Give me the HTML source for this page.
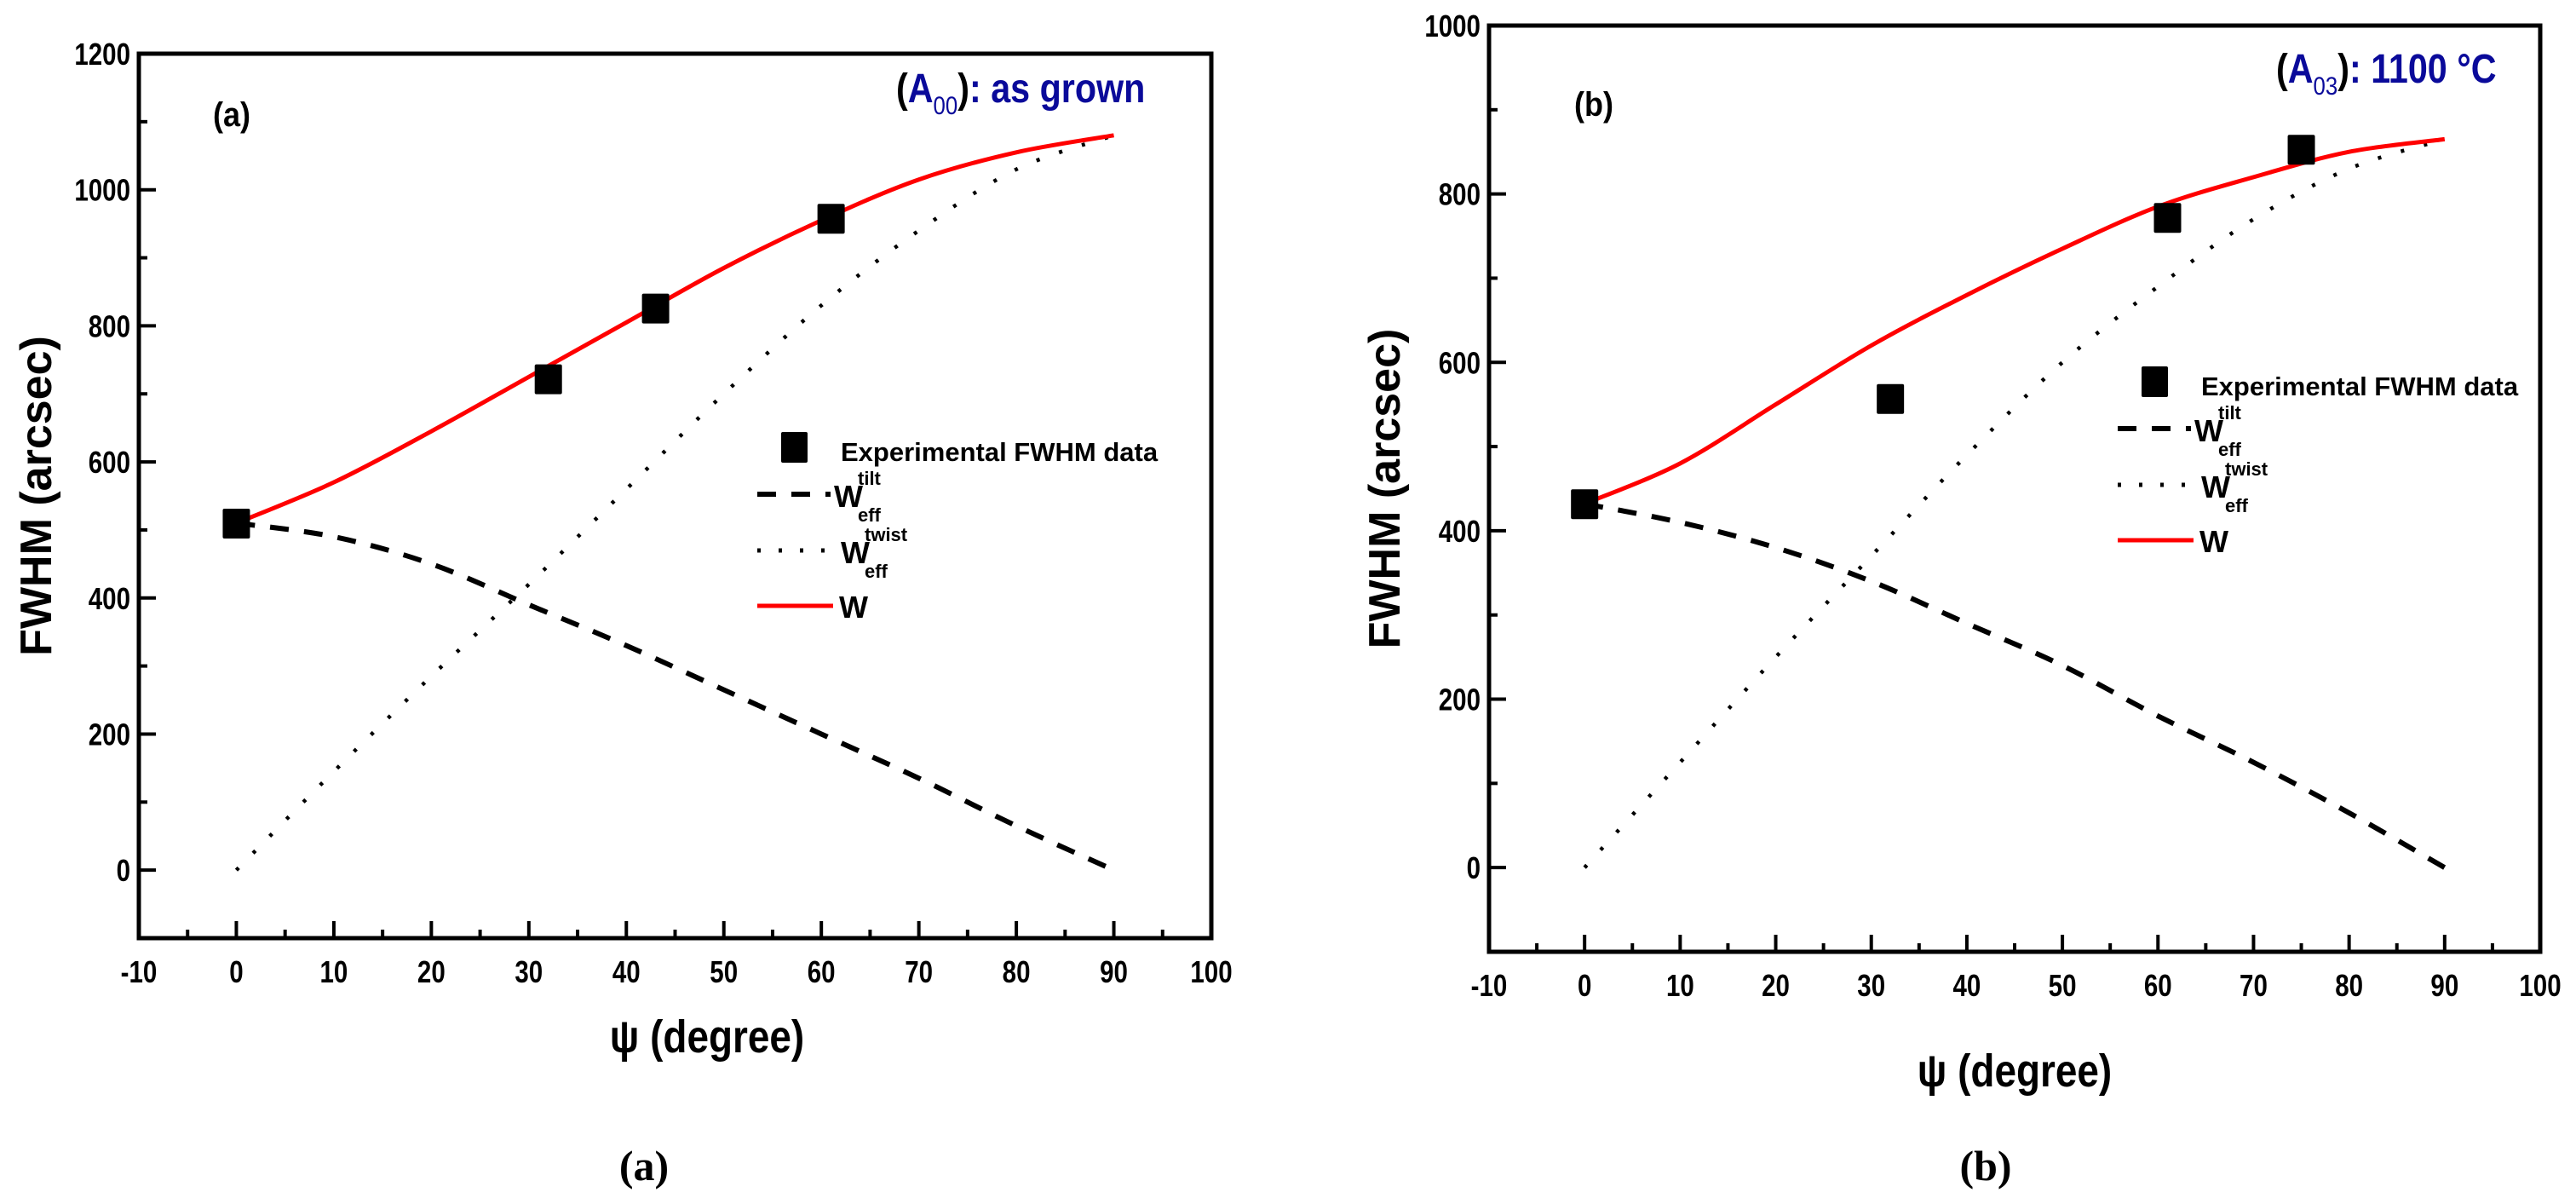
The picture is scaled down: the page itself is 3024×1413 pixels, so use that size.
<!DOCTYPE html>
<html><head><meta charset="utf-8"><style>
html,body{margin:0;padding:0;background:#fff;}
svg{display:block;}
text{font-family:"Liberation Sans",sans-serif;}
</style></head><body>
<svg id="fig" width="3024" height="1413" viewBox="0 0 3024 1413" xmlns="http://www.w3.org/2000/svg"></svg>
<script>
// ---- data ----
const xTicks = [-10,0,10,20,30,40,50,60,70,80,90,100];
const curveX = [0,10,20,30,40,50,60,70,80,90];
// panel a
const aYTicks = [0,200,400,600,800,1000,1200];
const aExpX = [0,32,43,61];
const aExpY = [510,722,826,958];
const aTilt = [510,490,450,390,330,265,200,135,65,0];
const aTwist = [0,145,285,420,560,700,830,940,1030,1080];
const aW = [510,570,645,725,805,885,955,1015,1055,1080];
// panel b
const bYTicks = [0,200,400,600,800,1000];
const bExpX = [0,32,61,75];
const bExpY = [432,557,772,853];
const bTilt = [432,410,380,340,290,240,180,125,65,0];
const bTwist = [0,125,250,370,490,600,690,770,830,865];
const bW = [432,480,550,620,680,735,785,820,850,865];

const NS="http://www.w3.org/2000/svg";
const svg=document.getElementById('fig');
function el(tag,attrs,parent){const e=document.createElementNS(NS,tag);for(const k in attrs)e.setAttribute(k,attrs[k]);(parent||svg).appendChild(e);return e;}
function txt(str,attrs,parent){const t=el('text',attrs,parent);t.textContent=str;return t;}

function smoothPath(pts){
  let d='M'+pts[0][0]+','+pts[0][1];
  for(let i=0;i<pts.length-1;i++){
    const p0=pts[Math.max(0,i-1)],p1=pts[i],p2=pts[i+1],p3=pts[Math.min(pts.length-1,i+2)];
    const c1=[p1[0]+(p2[0]-p0[0])/6,p1[1]+(p2[1]-p0[1])/6];
    const c2=[p2[0]-(p3[0]-p1[0])/6,p2[1]-(p3[1]-p1[1])/6];
    d+=' C'+c1[0]+','+c1[1]+' '+c2[0]+','+c2[1]+' '+p2[0]+','+p2[1];
  }
  return d;
}

function panel(cfg){
  const g=el('g',{});
  
  
  const sx=v=>cfg.L+(v-(-10))/110*(cfg.R-cfg.L);
  const sy=v=>cfg.B-(v-cfg.yMin)/(cfg.yMax-cfg.yMin)*(cfg.B-cfg.T);
  for(let v=-10;v<=100;v+=5){
    const major=v%10===0;const len=major?20:10;
    const t=el('line',{x1:sx(v),x2:sx(v),y1:cfg.B,y2:cfg.B-len,stroke:'#000','stroke-width':4},g);
    
    
  }
  xTicks.forEach(v=>{
    const t=txt(String(v),{x:sx(v),y:cfg.B+52,'text-anchor':'middle','font-size':36,'font-weight':'bold',transform:`translate(${sx(v)},0) scale(0.82,1) translate(${-sx(v)},0)`},g);
    
    
  });
  for(let v=cfg.yMin;v<=cfg.yMax;v+=100){
    const major=v%200===0;const len=major?20:10;
    const t=el('line',{x1:cfg.L,x2:cfg.L+len,y1:sy(v),y2:sy(v),stroke:'#000','stroke-width':4},g);
    
    
  }
  cfg.yTicks.forEach(v=>{
    const x=cfg.L-10;
    const t=txt(String(v),{x:x,y:sy(v)+13,'text-anchor':'end','font-size':36,'font-weight':'bold',transform:`translate(${x},0) scale(0.82,1) translate(${-x},0)`},g);
    
    
  });
  const fr=el('rect',{x:cfg.L,y:cfg.T,width:cfg.R-cfg.L,height:cfg.B-cfg.T,fill:'none',stroke:'#000','stroke-width':5},g);
  
  
  const yt=txt('FWHM (arcsec)',{x:0,y:0,'text-anchor':'middle','font-size':52,'font-weight':'bold',transform:`translate(${cfg.yTitleX},${(cfg.T+cfg.B)/2}) rotate(-90)`},g);
  
  
  const xt=txt('ψ (degree)',{x:cfg.xTitleX,y:cfg.xTitleY,'text-anchor':'middle','font-size':54,'font-weight':'bold',transform:`translate(${cfg.xTitleX},0) scale(0.85,1) translate(${-cfg.xTitleX},0)`},g);
  
  
  const mk=(arr)=>curveX.map((x,i)=>[sx(x),sy(arr[i])]);
  const tilt=el('path',{d:smoothPath(mk(cfg.tilt)),fill:'none',stroke:'#000','stroke-width':6,'stroke-dasharray':'22 18'},g);
  
  
  const tw=el('path',{d:smoothPath(mk(cfg.twist)),fill:'none',stroke:'#000','stroke-width':4.5,'stroke-dasharray':'4 24'},g);
  
  
  const w=el('path',{d:smoothPath(mk(cfg.w)),fill:'none',stroke:'#ff0000','stroke-width':5},g);
  
  
  cfg.expX.forEach((x,i)=>{
    const s=el('rect',{x:sx(x)-16,y:sy(cfg.expY[i])-17,width:32,height:35,fill:'#000',rx:2},g);
    
    
  });
  const pl=txt(cfg.tag,{x:cfg.tagX,y:cfg.tagY,'font-size':40,'font-weight':'bold',transform:`translate(${cfg.tagX},0) scale(0.9,1) translate(${-cfg.tagX},0)`},g);
  
  
  const an=txt('',{x:cfg.annX,y:cfg.annY,'font-size':48,'font-weight':'bold',fill:'#0a0a9a',transform:`translate(${cfg.annX},0) scale(0.86,1) translate(${-cfg.annX},0)`},g);
  
  
  const p1=el('tspan',{fill:'#000'},an);p1.textContent='(';
  const p2=el('tspan',{},an);p2.textContent='A';
  const p3=el('tspan',{'font-size':30,'font-weight':'normal',dy:14},an);p3.textContent=cfg.sub;
  const p4=el('tspan',{fill:'#000',dy:-14},an);p4.textContent=')';
  const p5=el('tspan',{},an);p5.textContent=': '+cfg.ann;
  const lg=el('g',{},g);
  
  
  const lx=cfg.legX, ly=cfg.legY;
  const ls=el('rect',{x:lx+28,y:ly-18,width:31,height:36,fill:'#000',rx:2},lg);
  
  
  const lt=txt('Experimental FWHM data',{x:lx+98,y:ly+16,'font-size':31,'font-weight':'bold'},lg);
  
  
  const dl=el('line',{x1:lx,x2:lx+86,y1:ly+55,y2:ly+55,stroke:'#000','stroke-width':6,'stroke-dasharray':'22 18'},lg);
  
  
  const t1=txt('W',{x:lx+90,y:ly+70,'font-size':36,'font-weight':'bold'},lg);
  
  
  txt('tilt',{x:lx+118,y:ly+44,'font-size':22,'font-weight':'bold'},lg);
  txt('eff',{x:lx+118,y:ly+87,'font-size':22,'font-weight':'bold'},lg);
  const ol=el('line',{x1:lx,x2:lx+86,y1:ly+121,y2:ly+121,stroke:'#000','stroke-width':5,'stroke-dasharray':'4 21'},lg);
  
  
  const t2=txt('W',{x:lx+98,y:ly+136,'font-size':36,'font-weight':'bold'},lg);
  
  
  txt('twist',{x:lx+126,y:ly+110,'font-size':22,'font-weight':'bold'},lg);
  txt('eff',{x:lx+126,y:ly+153,'font-size':22,'font-weight':'bold'},lg);
  const rl=el('line',{x1:lx,x2:lx+89,y1:ly+186,y2:ly+186,stroke:'#ff0000','stroke-width':5},lg);
  
  
  const t3=txt('W',{x:lx+96,y:ly+200,'font-size':36,'font-weight':'bold'},lg);
  
  
  const cp=txt(cfg.cap,{x:cfg.capX,y:cfg.capY,'text-anchor':'middle','font-size':50,style:'font-family:"Liberation Serif",serif;font-weight:bold'},g);
  
  
}

panel({name:'panel-a',L:163,R:1422,T:63,B:1101,yMin:-100,yMax:1200,yTicks:aYTicks,
  expX:aExpX,expY:aExpY,tilt:aTilt,twist:aTwist,w:aW,
  yTitleX:60,xTitleX:830,xTitleY:1235,tag:'(a)',tagX:250,tagY:148,
  annX:1052,annY:120,sub:'00',ann:'as grown',legX:889,legY:525,cap:'(a)',capX:756,capY:1385});
panel({name:'panel-b',L:1748,R:2982,T:30,B:1117,yMin:-100,yMax:1000,yTicks:bYTicks,
  expX:bExpX,expY:bExpY,tilt:bTilt,twist:bTwist,w:bW,
  yTitleX:1643,xTitleX:2365,xTitleY:1275,tag:'(b)',tagX:1848,tagY:136,
  annX:2672,annY:97,sub:'03',ann:'1100 °C',legX:2486,legY:448,cap:'(b)',capX:2331,capY:1385});
</script>
</body></html>
